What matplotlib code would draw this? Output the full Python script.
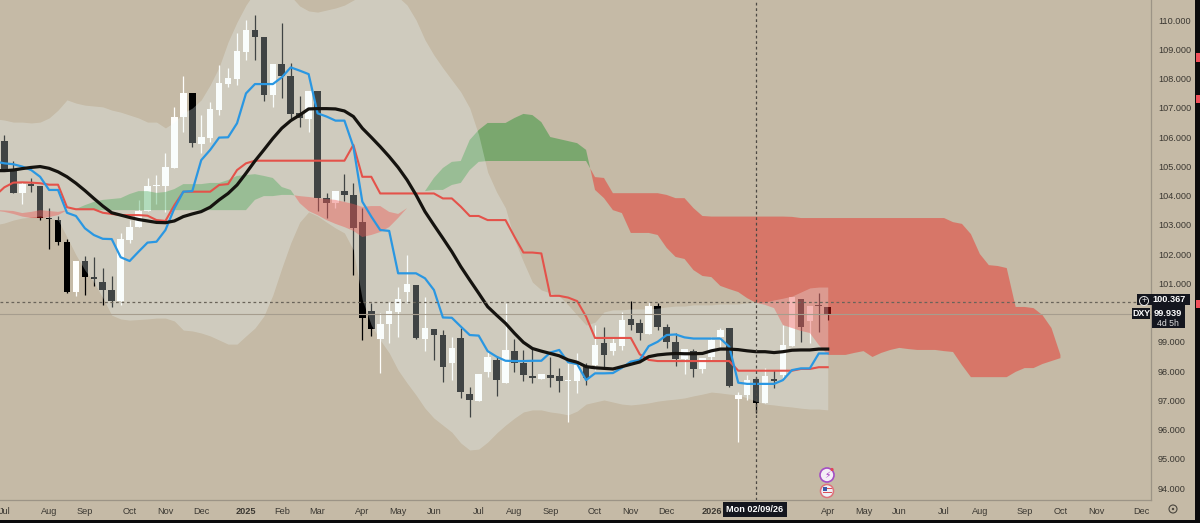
import matplotlib
matplotlib.use('Agg')
import matplotlib.pyplot as plt
from matplotlib.patches import Circle, Rectangle

plt.rcParams['font.family'] = ['Liberation Sans', 'DejaVu Sans']

# weekly DXY candles
opens = [105.87, 104.87, 104.07, 104.38, 104.34, 103.23, 103.17, 102.41, 100.69, 101.76,
         101.21, 101.05, 100.77, 100.40, 102.48, 102.92, 103.48, 104.34, 104.33, 104.95,
         106.67, 107.51, 105.76, 105.95, 106.93, 107.81, 107.99, 108.92, 109.66, 109.41,
         107.45, 108.50, 108.10, 106.81, 106.63, 107.57, 103.91, 103.76, 104.17, 104.03,
         103.08, 100.04, 99.08, 99.62, 100.02, 100.69, 100.93, 99.09, 99.44, 99.22,
         98.27, 99.12, 97.21, 96.97, 97.95, 98.38, 97.59, 98.67, 98.27, 97.82,
         97.74, 97.85, 97.82, 97.66, 97.67, 98.12, 98.20, 98.95, 98.67, 98.85,
         99.78, 99.65, 99.27, 100.23, 99.52, 98.99, 98.40, 98.67, 98.06, 98.49,
         99.17, 99.47, 97.04, 97.18, 97.73, 96.89, 97.73, 97.86, 98.87, 100.45,
         99.71, 100.26, 100.18]
highs = [106.07, 105.18, 104.47, 104.59, 104.34, 103.56, 103.30, 102.50, 101.76, 101.93,
         101.89, 101.51, 101.25, 102.71, 103.16, 103.85, 104.59, 104.70, 105.46, 107.04,
         108.09, 107.51, 106.75, 107.21, 108.46, 108.35, 109.54, 110.00, 110.17, 109.41,
         108.50, 109.91, 108.54, 107.40, 107.58, 107.57, 104.10, 104.17, 104.72, 104.42,
         103.56, 100.31, 99.97, 100.37, 100.88, 101.96, 100.93, 100.54, 99.44, 99.40,
         99.17, 99.46, 97.46, 97.90, 98.66, 98.49, 100.31, 99.08, 98.72, 98.77,
         97.90, 98.49, 98.09, 98.26, 98.63, 98.26, 99.57, 99.52, 99.12, 100.03,
         100.38, 99.78, 100.37, 100.31, 99.60, 99.31, 98.74, 98.74, 98.46, 99.17,
         99.46, 99.47, 97.29, 97.86, 97.80, 98.09, 98.03, 99.57, 100.52, 100.45,
         100.22, 100.65, 100.18]
lows = [104.87, 104.10, 103.71, 104.13, 103.16, 102.16, 102.31, 100.65, 100.56, 100.60,
        100.91, 100.26, 100.18, 100.26, 102.36, 102.92, 103.48, 103.71, 103.45, 104.95,
        106.18, 105.67, 105.44, 105.84, 106.75, 107.70, 107.78, 108.63, 108.63, 107.24,
        107.01, 107.32, 106.60, 106.35, 106.17, 103.48, 103.22, 103.56, 103.80, 101.28,
        99.06, 99.21, 97.94, 98.95, 99.17, 100.31, 99.08, 98.69, 98.38, 97.64,
        97.69, 97.07, 96.42, 96.97, 97.81, 97.15, 97.59, 97.98, 97.67, 97.58,
        97.74, 97.46, 97.29, 96.27, 97.26, 97.52, 98.03, 98.15, 98.55, 98.72,
        99.40, 99.05, 99.27, 99.40, 98.77, 98.17, 97.90, 97.78, 97.92, 98.38,
        98.77, 97.46, 95.58, 97.01, 96.55, 96.89, 97.41, 97.69, 98.87, 99.00,
        98.95, 99.34, 99.76]
closes = [104.87, 104.10, 104.38, 104.34, 103.22, 103.18, 102.40, 100.69, 101.76, 101.21,
          101.13, 100.76, 100.40, 102.51, 102.93, 103.48, 104.34, 104.36, 104.96, 106.70,
          107.51, 105.78, 105.99, 106.96, 107.83, 108.02, 108.94, 109.66, 109.41, 107.45,
          108.50, 108.09, 106.80, 106.65, 107.58, 103.91, 103.75, 104.17, 104.03, 102.89,
          99.80, 99.42, 99.60, 100.04, 100.45, 100.97, 99.12, 99.46, 99.22, 98.15,
          98.80, 97.28, 97.01, 97.90, 98.48, 97.69, 98.72, 98.28, 97.85, 97.75,
          97.90, 97.75, 97.65, 97.68, 98.20, 97.75, 98.89, 98.55, 98.97, 99.74,
          99.57, 99.29, 100.22, 99.49, 99.00, 98.41, 98.74, 98.08, 98.46, 99.06,
          99.40, 97.48, 97.18, 97.69, 96.89, 97.82, 97.66, 98.89, 100.52, 99.52,
          100.22, 100.22, 99.96]

# the lines and overlays start one week earlier, just off the left edge
blue = [105.16, 105.10, 105.07, 104.99, 104.87, 104.64, 104.19, 104.19, 103.41, 103.30, 102.88,
        102.65, 102.52, 102.51, 101.89, 101.76, 102.08, 102.39, 102.42, 102.82, 103.56,
        104.13, 104.15, 105.21, 105.56, 105.98, 105.99, 106.47, 107.49, 107.81, 107.81,
        107.81, 108.04, 108.38, 108.27, 108.15, 106.81, 106.70, 106.56, 106.56, 105.67,
        103.79, 103.28, 102.82, 102.79, 101.34, 101.34, 101.34, 101.17, 100.77, 99.83,
        99.82, 99.52, 99.23, 99.21, 98.68, 98.49, 98.35, 98.34, 98.34, 98.35,
        98.35, 98.63, 98.72, 98.30, 98.24, 97.69, 97.92, 97.92, 97.93, 98.11,
        98.32, 98.38, 98.85, 99.00, 99.23, 99.25, 99.15, 99.11, 99.11, 99.11,
        99.11, 98.83, 97.60, 97.56, 97.56, 97.56, 97.56, 97.69, 98.03, 98.09,
        98.09, 98.60, 98.60]
red = [104.00, 104.28, 104.44, 104.45, 104.44, 104.42, 104.37, 104.37, 103.60, 103.53, 103.53,
       103.53, 103.41, 103.37, 103.33, 103.33, 103.33, 103.31, 103.16, 103.13, 103.67,
       104.13, 104.13, 104.13, 104.13, 104.36, 104.39, 104.87, 105.10, 105.19, 105.19,
       105.19, 105.19, 105.19, 105.19, 105.19, 105.19, 105.19, 105.19, 105.19, 105.73,
       104.64, 104.64, 104.07, 104.07, 104.07, 104.07, 104.07, 104.07, 104.07, 103.90,
       103.90, 103.62, 103.30, 103.30, 103.16, 103.16, 103.16, 102.59, 102.05, 102.05,
       102.02, 100.57, 100.57, 100.51, 100.39, 99.86, 99.13, 99.13, 99.13, 99.13,
       99.13, 98.57, 98.38, 98.34, 98.34, 98.34, 98.34, 98.34, 98.34, 98.34,
       98.34, 98.34, 98.01, 98.01, 98.01, 98.01, 98.01, 98.01, 98.01, 98.07,
       98.07, 98.13, 98.13]
black = [104.85, 104.85, 104.87, 104.92, 104.96, 104.99, 104.93, 104.81, 104.64, 104.42, 104.17,
         103.90, 103.64, 103.41, 103.33, 103.25, 103.18, 103.13, 103.08, 103.07, 103.13,
         103.28, 103.37, 103.45, 103.60, 103.85, 104.07, 104.36, 104.76, 105.18, 105.56,
         105.95, 106.30, 106.56, 106.75, 106.96, 106.97, 106.97, 106.96, 106.89, 106.70,
         106.30, 105.99, 105.67, 105.33, 104.96, 104.53, 104.02, 103.45, 102.99, 102.54,
         102.08, 101.57, 101.11, 100.66, 100.20, 99.91, 99.63, 99.29, 98.98, 98.77,
         98.68, 98.60, 98.52, 98.38, 98.30, 98.15, 98.11, 98.09, 98.07, 98.15,
         98.23, 98.31, 98.49, 98.55, 98.58, 98.60, 98.59, 98.59, 98.60, 98.69,
         98.75, 98.75, 98.73, 98.69, 98.66, 98.66, 98.63, 98.66, 98.71, 98.72,
         98.72, 98.75, 98.75]

band_upper = [106.62, 106.58, 106.51, 106.51, 106.48, 106.51, 106.65, 106.92, 107.27, 107.16, 107.09,
              107.06, 107.03, 106.92, 106.85, 106.75, 106.65, 106.51, 106.51, 106.31, 106.51,
              106.82, 106.99, 107.27, 107.78, 108.39, 109.25, 109.93, 110.51, 110.96, 111.37,
              111.37, 111.20, 110.82, 110.48, 110.31, 110.27, 110.34, 110.41, 110.51, 110.68,
              110.85, 110.96, 110.96, 110.89, 110.79, 110.51, 110.00, 109.32, 108.80, 108.36,
              107.95, 107.54, 106.99, 106.07, 104.80, 104.12, 103.57, 102.48, 101.73, 101.04,
              100.77, 100.67, 100.56, 100.26, 99.91, 99.57, 99.67, 100.02, 100.09, 100.09,
              100.12, 100.12, 100.12, 100.15, 100.19, 100.22, 100.22, 100.26, 100.26, 100.26,
              100.29, 100.29, 100.29, 100.33, 100.36, 100.36, 100.43, 100.49, 100.56, 100.70,
              100.84, 100.87, 100.87]
band_lower = [103.00, 103.06, 103.16, 103.23, 103.26, 103.30, 103.23, 103.16, 102.58, 101.97, 101.45,
              101.04, 100.50, 99.91, 99.78, 99.74, 99.76, 99.78, 99.81, 99.81, 99.71,
              99.40, 99.37, 99.30, 99.20, 99.06, 98.92, 98.92, 99.20, 99.47, 99.88,
              100.60, 101.52, 102.38, 103.09, 103.44, 103.30, 103.09, 102.89, 102.72, 102.14,
              100.43, 99.57, 99.06, 98.62, 98.03, 97.59, 97.18, 96.73, 96.39, 96.15,
              95.91, 95.54, 95.30, 95.33, 95.57, 95.88, 96.15, 96.39, 96.60, 96.67,
              96.67, 96.60, 96.56, 96.50, 96.63, 96.87, 96.94, 97.01, 96.94, 96.87,
              96.84, 96.87, 96.91, 96.97, 97.01, 97.04, 97.08, 97.15, 97.21, 97.28,
              97.25, 97.21, 97.18, 97.08, 96.97, 96.87, 96.84, 96.80, 96.77, 96.73,
              96.70, 96.70, 96.67]

# ichimoku cloud, runs 26 weeks past the last candle
span_a = [103.48, 103.44, 103.37, 103.28, 103.23, 103.23, 103.26, 103.33, 103.49, 103.54, 103.67,
          103.78, 103.85, 103.88, 103.91, 104.05, 104.15, 104.15, 104.09, 104.12, 104.22,
          104.39, 104.39, 104.39, 104.43, 104.43, 104.53, 104.67, 104.70, 104.73, 104.67,
          104.60, 104.29, 104.19, 103.74, 103.47, 103.33, 103.16, 103.03, 102.92, 102.79,
          102.58, 102.65, 102.75, 102.92, 103.23, 103.57, 103.85, 104.15, 104.60, 104.94,
          105.15, 105.18, 105.90, 106.24, 106.48, 106.48, 106.48, 106.65, 106.79, 106.75,
          106.51, 106.00, 105.93, 105.86, 105.79, 105.56, 104.19, 103.91, 103.50, 103.40,
          102.72, 102.72, 102.72, 102.65, 102.21, 101.90, 101.83, 101.45, 101.25, 101.21,
          100.91, 100.80, 100.70, 100.49, 100.33, 100.26, 100.15, 99.57, 99.47, 99.37,
          99.30, 98.89, 98.55, 98.55, 98.55, 98.62, 98.68, 98.48, 98.62, 98.72,
          98.79, 98.75, 98.72, 98.72, 98.72, 98.68, 98.65, 98.20, 97.79, 97.79,
          97.79, 97.79, 97.79, 97.97, 98.10, 98.10, 98.24, 98.34, 98.44]
span_b = [103.50, 103.49, 103.47, 103.40, 103.44, 103.50, 103.47, 103.44, 103.50, 103.52, 103.51,
          103.51, 103.50, 103.50, 103.50, 103.50, 103.50, 103.50, 103.50, 103.50, 103.50,
          103.50, 103.50, 103.50, 103.50, 103.50, 103.50, 103.50, 103.50, 103.85, 103.98,
          103.98, 104.02, 104.02, 103.98, 103.95, 103.91, 103.88, 103.85, 103.78, 103.71,
          103.61, 103.64, 103.64, 103.44, 103.37, 103.57, 103.85, 104.15, 104.19, 104.19,
          104.36, 104.43, 104.87, 105.15, 105.18, 105.18, 105.18, 105.18, 105.18, 105.18,
          105.18, 105.18, 105.18, 105.18, 105.18, 105.18, 104.63, 104.60, 104.08, 104.08,
          104.08, 104.08, 104.08, 104.08, 104.02, 103.91, 103.91, 103.57, 103.30, 103.28,
          103.28, 103.28, 103.28, 103.28, 103.28, 103.28, 103.28, 103.28, 103.27, 103.23,
          103.23, 103.23, 103.23, 103.23, 103.23, 103.23, 103.23, 103.23, 103.23, 103.23,
          103.23, 103.23, 103.23, 103.23, 103.23, 103.23, 103.09, 103.03, 102.68, 102.00,
          101.62, 101.59, 101.52, 100.19, 100.19, 100.15, 99.91, 99.47, 98.55]

tick_weeks = [0, 5, 9, 14, 18, 22, 27, 31, 35, 40, 44, 48, 53, 57, 61, 66, 70, 74, 79,
              92, 96, 100, 105, 109, 114, 118, 122, 127]
tick_names = ['Jul', 'Aug', 'Sep', 'Oct', 'Nov', 'Dec', '2025', 'Feb', 'Mar', 'Apr', 'May', 'Jun',
              'Jul', 'Aug', 'Sep', 'Oct', 'Nov', 'Dec', '2026',
              'Apr', 'May', 'Jun', 'Jul', 'Aug', 'Sep', 'Oct', 'Nov', 'Dec']
price_ticks = list(range(94, 111))
crosshair_price = 100.367
last_price = 99.939
crosshair_week = 84

bg = '#c5baa6'
fig = plt.figure(figsize=(12, 5.23), dpi=100, facecolor=bg)
ax = fig.add_axes([0, 23 / 523, 1151 / 1200, 500 / 523], facecolor=bg)

weeks = list(range(len(opens)))
line_weeks = list(range(-1, len(blue) - 1))
cloud_weeks = list(range(-1, len(span_a) - 1))

# candles sit under the cloud and the band, the overlays tint them
for i in weeks:
    up = closes[i] >= opens[i]
    c = '#fefefc' if up else '#000000'
    ax.vlines(i, lows[i], highs[i], color=c, lw=0.9, zorder=2)
    ax.bar(i, abs(closes[i] - opens[i]), bottom=min(opens[i], closes[i]), width=0.74, color=c, lw=0, zorder=2)

ax.fill_between(cloud_weeks, span_a, span_b, where=[a >= b for a, b in zip(span_a, span_b)],
                interpolate=True, color='#0b8c1c', alpha=0.4, lw=0, zorder=3)
ax.fill_between(cloud_weeks, span_a, span_b, where=[a <= b for a, b in zip(span_a, span_b)],
                interpolate=True, color='#f01a14', alpha=0.42, lw=0, zorder=3)
ax.fill_between(line_weeks, band_lower, band_upper, color='#edfcff', alpha=0.27, lw=0, zorder=4)

ax.plot(line_weeks, red, color='#e4524a', lw=1.5, zorder=5)
ax.plot(line_weeks, blue, color='#2a97e2', lw=1.6, zorder=6)
ax.plot(line_weeks, black, color='#15130f', lw=2.3, zorder=7)

ax.axhline(last_price, color='#a69d8e', lw=0.8, zorder=5)
ax.axhline(crosshair_price, color='#6a645a', lw=0.9, dashes=(2.2, 2.2), zorder=8)
ax.axvline(crosshair_week, color='#4d4943', lw=0.9, dashes=(2.2, 2.2), zorder=8)

ax.set_xlim(-0.484, 128.12)
ax.set_ylim(93.59, 110.684)
ax.yaxis.tick_right()
# the 100.000 label is hidden behind the last price tag
ax.set_yticks(price_ticks, ['' if p == 100 else f'{p:.3f}' for p in price_ticks])
ax.set_xticks(tick_weeks, tick_names)
ax.tick_params(axis='y', length=0, pad=5, labelsize=6.6, labelcolor='#3b3832')
ax.tick_params(axis='x', length=0, pad=5, labelsize=6.6, labelcolor='#3b3832')
for lab in ax.get_xticklabels():
    if lab.get_text() in ('2025', '2026'):
        lab.set_fontweight('bold')
for s in ('top', 'left'):
    ax.spines[s].set_visible(False)
ax.spines['right'].set_color('#9c9486')
ax.spines['bottom'].set_color('#9c9486')
ax.spines['right'].set_linewidth(0.9)
ax.spines['bottom'].set_linewidth(0.9)

# screen furniture in pixel space: price tags, date tag, event icons, window edge
ov = fig.add_axes([0, 0, 1, 1], facecolor='none')
ov.set_xlim(0, 1200)
ov.set_ylim(523, 0)
ov.axis('off')
tag = '#14161e'
ov.add_patch(Rectangle((1137, 294), 53, 11, color=tag, lw=0))
ov.add_patch(Rectangle((1152, 305), 33, 23, color=tag, lw=0))
ov.add_patch(Rectangle((1132, 308), 18, 11, color=tag, lw=0))
ov.add_patch(Rectangle((723, 502), 64, 15, color=tag, lw=0))
ov.add_patch(Circle((1144, 301), 4.5, fc='none', ec='#e8e8e8', lw=0.7))
ov.text(1144, 301, '+', color='#e8e8e8', fontsize=6.5, ha='center', va='center')
ov.text(1169, 300, '100.367', color='white', fontsize=6.6, fontweight='bold', ha='center', va='center')
ov.text(1168, 313, '99.939', color='white', fontsize=6.6, fontweight='bold', ha='center', va='center')
ov.text(1168, 323, '4d 5h', color='#dcdcdc', fontsize=6.3, ha='center', va='center')
ov.text(1141, 313.5, 'DXY', color='white', fontsize=6.3, fontweight='bold', ha='center', va='center')
ov.text(755, 509.5, 'Mon 02/09/26', color='white', fontsize=6.6, fontweight='bold', ha='center', va='center')

ov.add_patch(Circle((827, 475), 7, fc='#f4eef6', ec='#a44ec4', lw=1.2))
ov.text(827, 475, '⚡', color='#a233c2', fontsize=6.5, ha='center', va='center')
ov.add_patch(Circle((832, 469.5), 1.6, fc='#e0445a', lw=0))
ov.add_patch(Circle((827, 491), 6.5, fc='#eef0f5', ec='#e0707a', lw=1.1))
ov.add_patch(Rectangle((822.5, 487), 4.5, 4, color='#3a5aa8', lw=0))
ov.add_patch(Rectangle((822.5, 491.5), 9, 1.3, color='#d9505a', lw=0))
ov.add_patch(Rectangle((827, 488), 4.5, 1.2, color='#d9505a', lw=0))

ov.add_patch(Circle((1173, 509), 4, fc='none', ec='#4a463e', lw=0.8))
ov.add_patch(Circle((1173, 509), 1.2, fc='#4a463e', lw=0))

ov.add_patch(Rectangle((1195, 0), 5, 523, color='#0b0b0c', lw=0))
ov.add_patch(Rectangle((0, 520), 1200, 3, color='#0b0b0c', lw=0))
ov.add_patch(Rectangle((1196, 53), 4, 9, color='#f0505a', lw=0))
ov.add_patch(Rectangle((1196, 95), 4, 8, color='#f0505a', lw=0))
ov.add_patch(Rectangle((1196, 300), 4, 8, color='#f0505a', lw=0))

fig.savefig('out.png', dpi=100, facecolor=bg)
